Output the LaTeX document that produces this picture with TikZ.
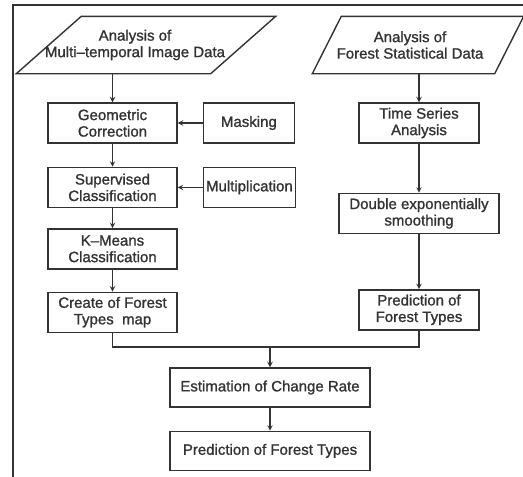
\documentclass[tikz,border=0pt]{standalone}
\usepackage{fontspec}
\setmainfont{Liberation Sans}[RawFeature={embolden=1.2}]
\usetikzlibrary{positioning}
\begin{document}
\begin{tikzpicture}[->,>=stealth,x=1pt,y=-1pt,line width=1.4pt,color=black!80,
  font=\fontsize{15}{16.5}\selectfont,
  main node/.style={rectangle,draw,align=center,inner sep=0pt,minimum height=40pt},
  data node/.style={rectangle,align=center,inner sep=0pt,minimum height=56pt}]
  \useasboundingbox (0,0) rectangle (523,477);
  \draw[-] (523,5) -- (13,5) -- (13,477);
  % data sources
  \node[data node,minimum width=193pt] (1) at (135,45) {Analysis of\\Multi–temporal Image Data};
  \node[data node,minimum width=181pt] (2) at (410,45) {Analysis of\\Forest Statistical Data};
  \draw[-] ([xshift=-21.5pt]1.south west) -- ([xshift=-21.5pt]1.south east)
    -- ([xshift=43.5pt]1.north east) -- ([xshift=43.5pt]1.north west) -- cycle;
  \draw[-] ([xshift=-6.5pt]2.south west) -- ([xshift=-6.5pt]2.south east)
    -- ([xshift=22.5pt]2.north east) -- ([xshift=22.5pt]2.north west) -- cycle;
  % image processing
  \node[main node,minimum width=129pt] (3) at (112.5,123) {Geometric\\Correction};
  \node[main node,minimum width=91pt] (4) [right=25pt of 3] {Masking};
  \node[main node,minimum width=129pt] (5) [below=23pt of 3] {Supervised\\Classification};
  \node[main node,minimum width=92pt] (6) [right=25pt of 5] {Multiplication};
  \node[main node,minimum width=129pt] (7) [below=20pt of 5] {K–Means\\Classification};
  \node[main node,minimum width=129pt] (8) [below=22pt of 7] {Create of Forest\\Types~ map};
  % statistics
  \node[main node,minimum width=120pt] (9) at (419,123) {Time Series\\Analysis};
  \node[main node,minimum width=160pt] (10) [below=49pt of 9] {Double exponentially\\smoothing};
  \node[main node,minimum width=120pt] (11) [below=55pt of 10] {Prediction of\\Forest Types};
  % result
  \node[main node,minimum width=200pt,minimum height=39pt] (12) at (270,387.5) {Estimation of Change Rate};
  \node[main node,minimum width=200pt,minimum height=39pt] (13) [below=23pt of 12] {Prediction of Forest Types};
  \coordinate (m) at (270,347);

  \draw (1.south -| 3.north) -- (3.north);
  \draw (2.south -| 9.north) -- (9.north);
  \draw (4) -- (3);
  \draw (6) -- (5);
  \draw (3) -- (5);
  \draw (5) -- (7);
  \draw (7) -- (8);
  \draw (9) -- (10);
  \draw (10) -- (11);
  \draw[-] (8.south) |- (m) -| (11.south);
  \draw (m) -- (12);
  \draw (12) -- (13);
\end{tikzpicture}
\end{document}
